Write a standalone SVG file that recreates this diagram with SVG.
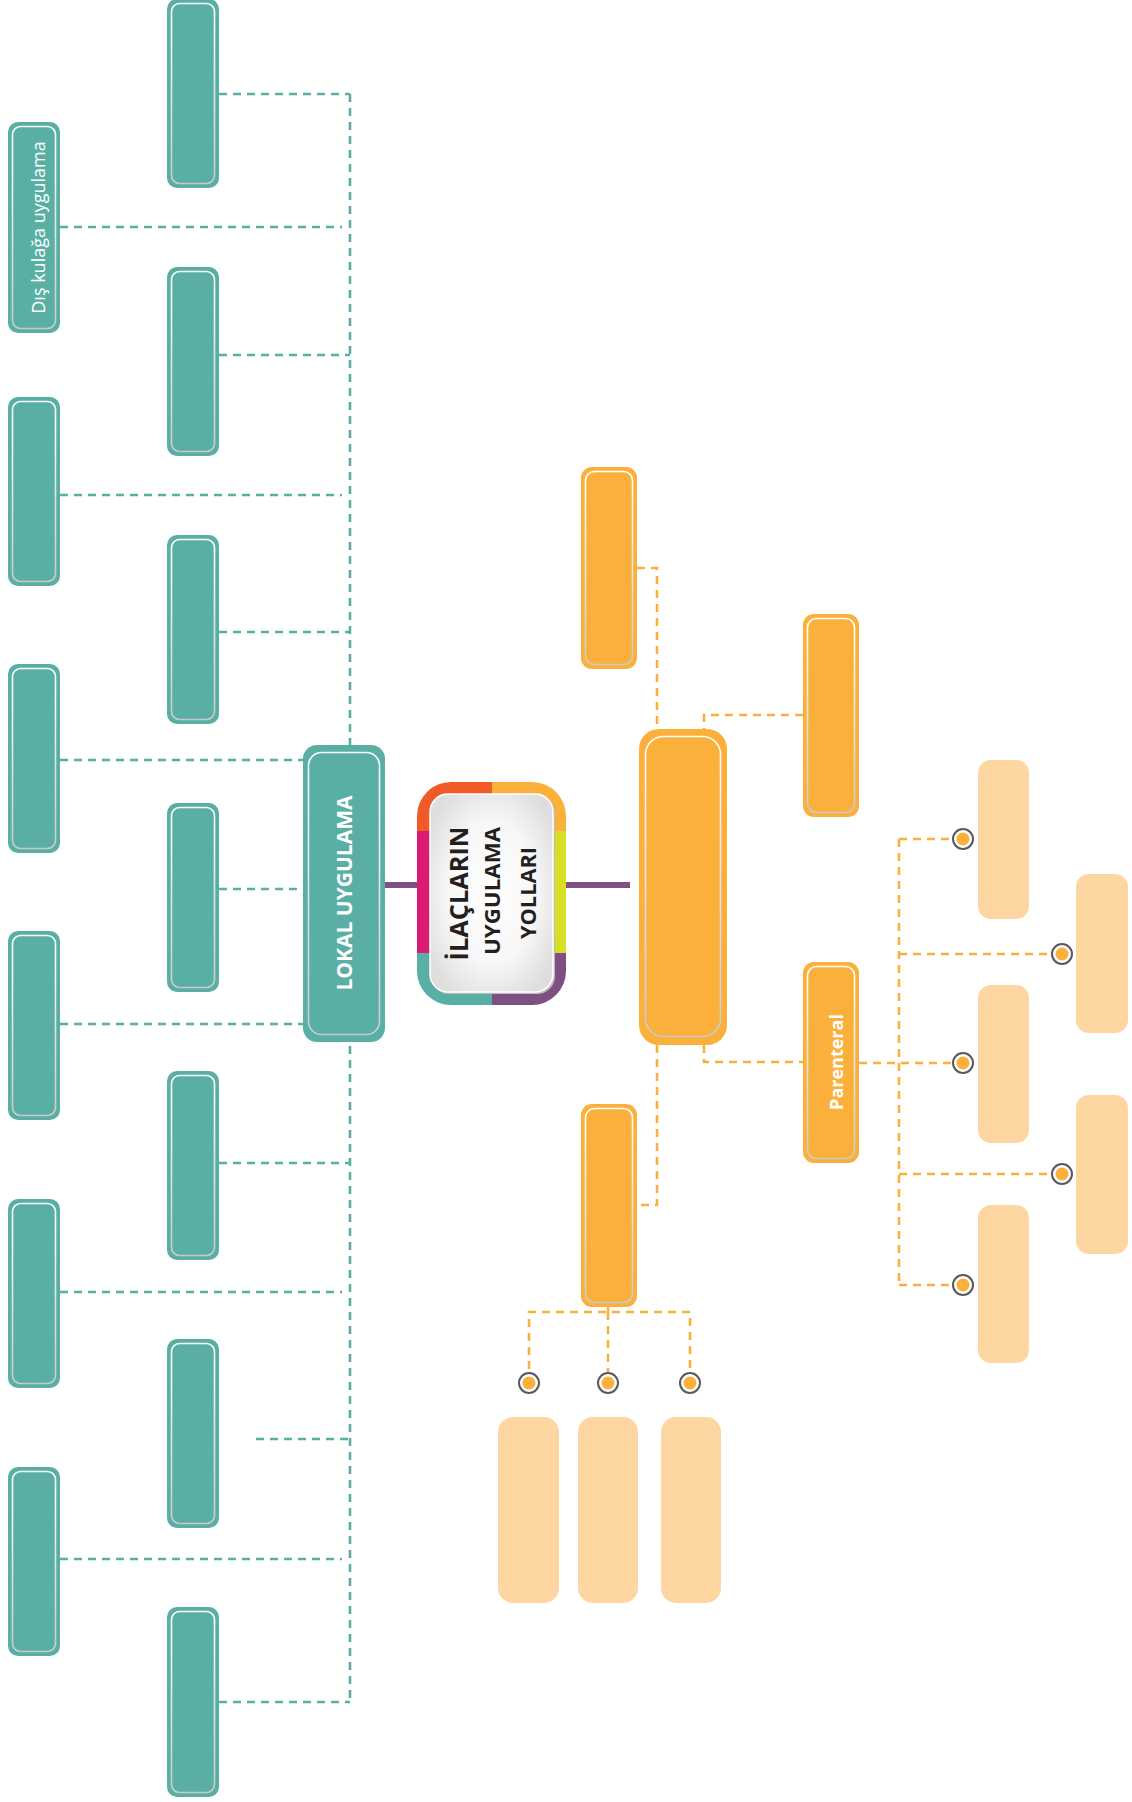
<svg xmlns="http://www.w3.org/2000/svg" width="1132" height="1802" viewBox="0 0 1132 1802">
<style>
.tb{fill:#5AAFA5}
.ob{fill:#FBB03B}
.pb{fill:#FDD6A2}
.in{fill:none;stroke:url(#rim);stroke-width:1.6}
.td{fill:none;stroke:#5AAFA5;stroke-width:2.6;stroke-dasharray:8 6}
.od{fill:none;stroke:#FBB03B;stroke-width:2.6;stroke-dasharray:8 6}
.pl{fill:none;stroke:#7F4F81;stroke-width:6}
.ring{fill:#fff;stroke:#58595B;stroke-width:2}
.dot{fill:#FBB03B}
.wt{fill:#fff;font-family:"Open Sans","Liberation Sans",sans-serif}
.ct{fill:#231F20;font-family:"Open Sans","Liberation Sans",sans-serif;font-weight:bold;text-anchor:middle}
</style>
<defs>
<linearGradient id="rim" x1="0" y1="0" x2="0" y2="1">
<stop offset="0" stop-color="#ffffff"/>
<stop offset="1" stop-color="#c9c9c9"/>
</linearGradient>
<radialGradient id="core" cx="0.5" cy="0.5" r="0.6">
<stop offset="0" stop-color="#ffffff"/>
<stop offset="0.6" stop-color="#f7f7f7"/>
<stop offset="1" stop-color="#dedede"/>
</radialGradient>
<clipPath id="cclip"><rect x="417" y="782" width="149" height="223" rx="34"/></clipPath>
</defs>

<g id="connectors">
<path class="td" d="M350 94V1702"/>
<path class="td" d="M219 94H350M219 355H350M219 632H350M219 889H350M219 1163H350M256 1439H350M219 1702H350"/>
<path class="td" d="M60 227H342M60 495H342M60 760H342M60 1024H342M60 1292H342M60 1559H342"/>
<path class="pl" d="M385 885H417M566 885H630"/>
<path class="od" d="M637 568H657V729M803 715H704V729M704 1045V1062H803M657 1045V1205H637"/>
<path class="od" d="M608 1307V1312M529 1383V1312H690V1383M608 1312V1383"/>
<path class="od" d="M859 1063H963M899 839V1285M899 839H963M899 954H1062M899 1174H1062M899 1285H963"/>
</g>

<g id="teal-left">
<g id="l1"><rect class="tb" x="8" y="122" width="52" height="211" rx="10"/><rect class="in" x="12.5" y="126.5" width="43" height="202" rx="8"/>
<text class="wt" font-size="18" text-anchor="middle" transform="translate(45 227.5) rotate(-90)">Dış kulağa uygulama</text></g>
<g id="l2"><rect class="tb" x="8" y="397" width="52" height="189" rx="10"/><rect class="in" x="12.5" y="401.5" width="43" height="180" rx="8"/></g>
<g id="l3"><rect class="tb" x="8" y="664" width="52" height="189" rx="10"/><rect class="in" x="12.5" y="668.5" width="43" height="180" rx="8"/></g>
<g id="l4"><rect class="tb" x="8" y="931" width="52" height="189" rx="10"/><rect class="in" x="12.5" y="935.5" width="43" height="180" rx="8"/></g>
<g id="l5"><rect class="tb" x="8" y="1199" width="52" height="189" rx="10"/><rect class="in" x="12.5" y="1203.5" width="43" height="180" rx="8"/></g>
<g id="l6"><rect class="tb" x="8" y="1467" width="52" height="189" rx="10"/><rect class="in" x="12.5" y="1471.5" width="43" height="180" rx="8"/></g>
</g>

<g id="teal-right">
<g id="r1"><rect class="tb" x="167" y="-1" width="52" height="189" rx="10"/><rect class="in" x="171.5" y="3.5" width="43" height="180" rx="8"/></g>
<g id="r2"><rect class="tb" x="167" y="267" width="52" height="189" rx="10"/><rect class="in" x="171.5" y="271.5" width="43" height="180" rx="8"/></g>
<g id="r3"><rect class="tb" x="167" y="535" width="52" height="189" rx="10"/><rect class="in" x="171.5" y="539.5" width="43" height="180" rx="8"/></g>
<g id="r4"><rect class="tb" x="167" y="803" width="52" height="189" rx="10"/><rect class="in" x="171.5" y="807.5" width="43" height="180" rx="8"/></g>
<g id="r5"><rect class="tb" x="167" y="1071" width="52" height="189" rx="10"/><rect class="in" x="171.5" y="1075.5" width="43" height="180" rx="8"/></g>
<g id="r6"><rect class="tb" x="167" y="1339" width="52" height="189" rx="10"/><rect class="in" x="171.5" y="1343.5" width="43" height="180" rx="8"/></g>
<g id="r7"><rect class="tb" x="167" y="1607" width="52" height="190" rx="10"/><rect class="in" x="171.5" y="1611.5" width="43" height="181" rx="8"/></g>
</g>

<g id="lokal">
<rect class="tb" x="303" y="745" width="82" height="297" rx="14"/>
<rect class="in" x="308.5" y="752.5" width="71" height="282" rx="13" stroke-width="2"/>
<text class="wt" font-size="21" font-weight="bold" text-anchor="middle" transform="translate(352 893) rotate(-90)">LOKAL UYGULAMA</text>
</g>

<g id="center">
<g clip-path="url(#cclip)">
<rect x="417" y="782" width="75" height="49" fill="#F05A28"/>
<rect x="492" y="782" width="74" height="49" fill="#FBB03B"/>
<rect x="417" y="831" width="75" height="122" fill="#DA1C74"/>
<rect x="492" y="831" width="74" height="122" fill="#D7DF23"/>
<rect x="417" y="953" width="75" height="52" fill="#5AAFA5"/>
<rect x="492" y="953" width="74" height="52" fill="#7F4F81"/>
</g>
<rect x="431" y="795" width="124" height="199" rx="18" fill="#bdbdbd"/>
<rect x="430" y="794" width="123" height="198" rx="18" fill="url(#core)" stroke="#ffffff" stroke-width="1.5"/>
<text class="ct" font-size="25" textLength="134" lengthAdjust="spacingAndGlyphs" transform="translate(468 893.5) rotate(-90)">İLAÇLARIN</text>
<text class="ct" font-size="21" textLength="128" lengthAdjust="spacingAndGlyphs" transform="translate(500 891) rotate(-90)">UYGULAMA</text>
<text class="ct" font-size="21" textLength="92" lengthAdjust="spacingAndGlyphs" transform="translate(536 893) rotate(-90)">YOLLARI</text>
</g>

<g id="orange-nodes">
<g id="omain"><rect class="ob" x="639" y="729" width="88" height="316" rx="20"/><rect class="in" x="645.5" y="736.5" width="75" height="300" rx="18" stroke-width="2"/></g>
<g id="o1"><rect class="ob" x="581" y="467" width="56" height="202" rx="11"/><rect class="in" x="585.5" y="471.5" width="47" height="193" rx="9"/></g>
<g id="o2"><rect class="ob" x="803" y="614" width="56" height="203" rx="11"/><rect class="in" x="807.5" y="618.5" width="47" height="194" rx="9"/></g>
<g id="o3"><rect class="ob" x="803" y="962" width="56" height="201" rx="11"/><rect class="in" x="807.5" y="966.5" width="47" height="192" rx="9"/>
<text class="wt" font-size="18" font-weight="bold" text-anchor="middle" transform="translate(843 1062) rotate(-90)">Parenteral</text></g>
<g id="o4"><rect class="ob" x="581" y="1104" width="56" height="203" rx="11"/><rect class="in" x="585.5" y="1108.5" width="47" height="194" rx="9"/></g>
</g>

<g id="markers">
<circle class="ring" cx="529" cy="1383" r="10"/><circle class="dot" cx="529" cy="1383" r="6.5"/>
<circle class="ring" cx="608" cy="1383" r="10"/><circle class="dot" cx="608" cy="1383" r="6.5"/>
<circle class="ring" cx="690" cy="1383" r="10"/><circle class="dot" cx="690" cy="1383" r="6.5"/>
<circle class="ring" cx="963" cy="839" r="10"/><circle class="dot" cx="963" cy="839" r="6.5"/>
<circle class="ring" cx="1062" cy="954" r="10"/><circle class="dot" cx="1062" cy="954" r="6.5"/>
<circle class="ring" cx="963" cy="1063" r="10"/><circle class="dot" cx="963" cy="1063" r="6.5"/>
<circle class="ring" cx="1062" cy="1174" r="10"/><circle class="dot" cx="1062" cy="1174" r="6.5"/>
<circle class="ring" cx="963" cy="1285" r="10"/><circle class="dot" cx="963" cy="1285" r="6.5"/>
</g>

<g id="pale-nodes">
<rect id="p1" class="pb" x="498" y="1417" width="61" height="186" rx="15"/>
<rect id="p2" class="pb" x="578" y="1417" width="60" height="186" rx="15"/>
<rect id="p3" class="pb" x="661" y="1417" width="60" height="186" rx="15"/>
<rect id="p4" class="pb" x="978" y="760" width="51" height="159" rx="13"/>
<rect id="p5" class="pb" x="1076" y="874" width="52" height="159" rx="13"/>
<rect id="p6" class="pb" x="978" y="985" width="51" height="158" rx="13"/>
<rect id="p7" class="pb" x="1076" y="1095" width="52" height="159" rx="13"/>
<rect id="p8" class="pb" x="978" y="1205" width="51" height="158" rx="13"/>
</g>
</svg>
